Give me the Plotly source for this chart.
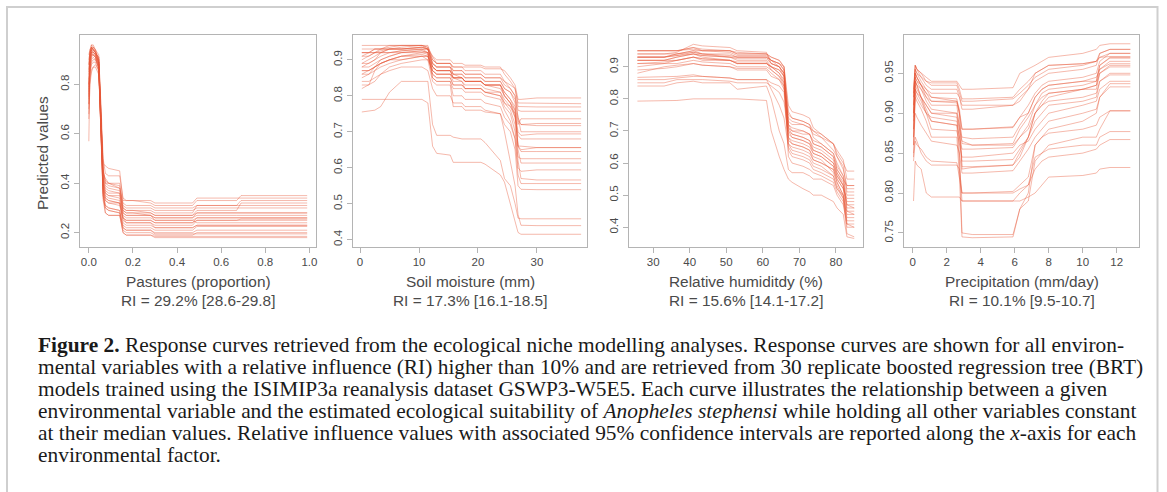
import plotly.graph_objects as go

# ---------------- DATA ----------------
# Panel 1: Pastures (proportion)
pasture_x = [0.0, 0.005, 0.012, 0.02, 0.03, 0.045, 0.055, 0.065, 0.075, 0.09, 0.14, 0.155, 0.17, 0.2, 0.28, 0.3, 0.47, 0.49, 0.67, 0.69, 0.99]
pasture_curves = [
    [0.72, 0.90, 0.95, 0.94, 0.93, 0.90, 0.70, 0.45, 0.40, 0.40, 0.38, 0.30, 0.29, 0.29, 0.28, 0.27, 0.27, 0.28, 0.28, 0.28, 0.28],
    [0.80, 0.92, 0.96, 0.95, 0.94, 0.88, 0.62, 0.40, 0.36, 0.35, 0.34, 0.26, 0.24, 0.24, 0.24, 0.22, 0.22, 0.23, 0.23, 0.23, 0.23],
    [0.57, 0.85, 0.93, 0.93, 0.92, 0.87, 0.66, 0.48, 0.47, 0.46, 0.45, 0.33, 0.33, 0.33, 0.32, 0.31, 0.31, 0.33, 0.33, 0.35, 0.35],
    [0.70, 0.88, 0.94, 0.94, 0.93, 0.89, 0.60, 0.35, 0.30, 0.29, 0.28, 0.20, 0.19, 0.19, 0.19, 0.18, 0.18, 0.18, 0.18, 0.18, 0.18],
    [0.85, 0.93, 0.95, 0.94, 0.93, 0.91, 0.72, 0.50, 0.44, 0.43, 0.43, 0.34, 0.33, 0.33, 0.33, 0.32, 0.32, 0.34, 0.34, 0.34, 0.34],
    [0.78, 0.90, 0.93, 0.92, 0.91, 0.86, 0.58, 0.38, 0.33, 0.32, 0.31, 0.25, 0.24, 0.24, 0.24, 0.23, 0.23, 0.25, 0.25, 0.255, 0.255],
    [0.88, 0.94, 0.96, 0.96, 0.94, 0.90, 0.64, 0.36, 0.28, 0.27, 0.27, 0.21, 0.20, 0.20, 0.20, 0.19, 0.19, 0.20, 0.20, 0.20, 0.20],
    [0.75, 0.89, 0.92, 0.92, 0.91, 0.88, 0.68, 0.42, 0.38, 0.37, 0.36, 0.29, 0.28, 0.28, 0.27, 0.26, 0.26, 0.27, 0.27, 0.27, 0.27],
    [0.82, 0.87, 0.90, 0.91, 0.90, 0.87, 0.63, 0.44, 0.42, 0.40, 0.39, 0.30, 0.29, 0.29, 0.29, 0.28, 0.28, 0.31, 0.31, 0.31, 0.31],
    [0.90, 0.93, 0.95, 0.95, 0.94, 0.92, 0.70, 0.37, 0.31, 0.30, 0.29, 0.22, 0.21, 0.21, 0.21, 0.195, 0.195, 0.195, 0.195, 0.195, 0.195],
    [0.68, 0.84, 0.88, 0.89, 0.89, 0.85, 0.61, 0.39, 0.35, 0.34, 0.33, 0.27, 0.26, 0.26, 0.26, 0.25, 0.25, 0.26, 0.26, 0.26, 0.26],
    [0.76, 0.82, 0.86, 0.87, 0.87, 0.84, 0.65, 0.41, 0.37, 0.36, 0.36, 0.28, 0.27, 0.27, 0.27, 0.25, 0.25, 0.24, 0.24, 0.24, 0.24],
    [0.86, 0.91, 0.94, 0.93, 0.92, 0.89, 0.66, 0.43, 0.39, 0.38, 0.37, 0.29, 0.28, 0.28, 0.28, 0.27, 0.27, 0.29, 0.29, 0.32, 0.32],
    [0.74, 0.92, 0.95, 0.94, 0.93, 0.90, 0.62, 0.34, 0.30, 0.29, 0.28, 0.23, 0.22, 0.22, 0.22, 0.21, 0.21, 0.225, 0.225, 0.225, 0.225],
    [0.80, 0.86, 0.91, 0.92, 0.91, 0.86, 0.59, 0.36, 0.33, 0.32, 0.32, 0.26, 0.25, 0.25, 0.25, 0.24, 0.24, 0.25, 0.25, 0.25, 0.25],
    [0.92, 0.94, 0.95, 0.94, 0.93, 0.91, 0.67, 0.40, 0.34, 0.33, 0.32, 0.24, 0.23, 0.23, 0.23, 0.22, 0.22, 0.23, 0.23, 0.23, 0.23],
    [0.72, 0.85, 0.89, 0.90, 0.90, 0.87, 0.64, 0.45, 0.41, 0.40, 0.40, 0.31, 0.30, 0.30, 0.30, 0.29, 0.29, 0.30, 0.30, 0.30, 0.30],
    [0.84, 0.91, 0.93, 0.93, 0.92, 0.88, 0.60, 0.33, 0.28, 0.27, 0.27, 0.20, 0.19, 0.19, 0.19, 0.185, 0.185, 0.185, 0.185, 0.185, 0.185],
    [0.79, 0.90, 0.94, 0.93, 0.92, 0.89, 0.69, 0.46, 0.40, 0.39, 0.38, 0.32, 0.31, 0.31, 0.31, 0.30, 0.30, 0.31, 0.31, 0.33, 0.33],
    [0.66, 0.80, 0.85, 0.87, 0.88, 0.86, 0.63, 0.38, 0.34, 0.33, 0.32, 0.26, 0.25, 0.25, 0.25, 0.24, 0.24, 0.26, 0.26, 0.26, 0.26],
    [0.88, 0.92, 0.94, 0.95, 0.93, 0.89, 0.61, 0.35, 0.31, 0.30, 0.29, 0.22, 0.21, 0.21, 0.21, 0.20, 0.20, 0.21, 0.21, 0.21, 0.21],
    [0.77, 0.88, 0.92, 0.92, 0.91, 0.88, 0.66, 0.42, 0.36, 0.35, 0.35, 0.28, 0.27, 0.27, 0.27, 0.26, 0.26, 0.28, 0.28, 0.28, 0.28],
]

# Panel 2: Soil moisture (mm)
soil_x = [0.3, 1.5, 2.5, 3.5, 5, 7, 10.5, 11.5, 12.3, 13, 15.3, 15.8, 17.3, 17.8, 20.5, 21.2, 23.8, 24.5, 25.5, 26.3, 26.8, 27.3, 30, 37.5]
soil_curves = [
    [0.92, 0.92, 0.93, 0.93, 0.935, 0.94, 0.94, 0.94, 0.90, 0.89, 0.89, 0.87, 0.87, 0.86, 0.86, 0.85, 0.85, 0.83, 0.82, 0.80, 0.74, 0.70, 0.70, 0.70],
    [0.94, 0.94, 0.94, 0.94, 0.94, 0.94, 0.94, 0.93, 0.91, 0.89, 0.89, 0.88, 0.88, 0.88, 0.88, 0.875, 0.875, 0.87, 0.85, 0.83, 0.79, 0.79, 0.794, 0.794],
    [0.88, 0.89, 0.90, 0.92, 0.93, 0.93, 0.935, 0.93, 0.88, 0.87, 0.87, 0.85, 0.85, 0.84, 0.84, 0.83, 0.83, 0.80, 0.78, 0.74, 0.66, 0.66, 0.656, 0.656],
    [0.85, 0.86, 0.88, 0.90, 0.91, 0.92, 0.925, 0.92, 0.87, 0.86, 0.86, 0.84, 0.84, 0.83, 0.83, 0.82, 0.81, 0.78, 0.76, 0.72, 0.62, 0.57, 0.566, 0.566],
    [0.91, 0.91, 0.92, 0.92, 0.93, 0.93, 0.93, 0.93, 0.90, 0.89, 0.89, 0.88, 0.88, 0.87, 0.87, 0.86, 0.86, 0.84, 0.83, 0.82, 0.78, 0.78, 0.778, 0.778],
    [0.83, 0.83, 0.87, 0.89, 0.90, 0.91, 0.915, 0.91, 0.86, 0.85, 0.85, 0.83, 0.83, 0.82, 0.82, 0.81, 0.80, 0.78, 0.77, 0.75, 0.70, 0.69, 0.694, 0.694],
    [0.92, 0.92, 0.92, 0.925, 0.93, 0.93, 0.935, 0.93, 0.89, 0.88, 0.88, 0.86, 0.86, 0.85, 0.85, 0.84, 0.84, 0.82, 0.81, 0.79, 0.74, 0.72, 0.717, 0.717],
    [0.755, 0.757, 0.76, 0.77, 0.81, 0.84, 0.84, 0.84, 0.72, 0.69, 0.69, 0.685, 0.68, 0.68, 0.68, 0.67, 0.62, 0.57, 0.55, 0.50, 0.46, 0.458, 0.458, 0.458],
    [0.79, 0.79, 0.79, 0.79, 0.79, 0.79, 0.79, 0.78, 0.66, 0.64, 0.635, 0.615, 0.615, 0.615, 0.615, 0.61, 0.58, 0.56, 0.50, 0.45, 0.42, 0.415, 0.415, 0.415],
    [0.89, 0.90, 0.91, 0.92, 0.92, 0.925, 0.93, 0.92, 0.85, 0.84, 0.84, 0.80, 0.80, 0.79, 0.79, 0.78, 0.77, 0.74, 0.72, 0.68, 0.60, 0.59, 0.594, 0.594],
    [0.86, 0.87, 0.88, 0.89, 0.90, 0.91, 0.91, 0.91, 0.88, 0.87, 0.87, 0.86, 0.85, 0.84, 0.84, 0.83, 0.83, 0.81, 0.79, 0.77, 0.73, 0.72, 0.723, 0.723],
    [0.90, 0.91, 0.92, 0.93, 0.93, 0.935, 0.94, 0.935, 0.89, 0.88, 0.88, 0.86, 0.86, 0.85, 0.85, 0.84, 0.84, 0.82, 0.81, 0.78, 0.66, 0.65, 0.656, 0.656],
    [0.84, 0.84, 0.85, 0.86, 0.87, 0.88, 0.88, 0.87, 0.82, 0.80, 0.80, 0.78, 0.78, 0.77, 0.77, 0.76, 0.75, 0.72, 0.70, 0.65, 0.55, 0.54, 0.539, 0.539],
    [0.93, 0.93, 0.93, 0.93, 0.94, 0.94, 0.94, 0.935, 0.91, 0.90, 0.90, 0.89, 0.89, 0.885, 0.885, 0.88, 0.88, 0.86, 0.84, 0.82, 0.77, 0.77, 0.769, 0.769],
    [0.82, 0.83, 0.84, 0.86, 0.88, 0.89, 0.90, 0.90, 0.84, 0.83, 0.83, 0.77, 0.77, 0.76, 0.76, 0.755, 0.75, 0.70, 0.62, 0.55, 0.47, 0.44, 0.439, 0.439],
    [0.87, 0.87, 0.88, 0.89, 0.90, 0.90, 0.91, 0.90, 0.87, 0.86, 0.86, 0.85, 0.84, 0.82, 0.82, 0.81, 0.81, 0.79, 0.77, 0.74, 0.69, 0.68, 0.68, 0.68],
    [0.91, 0.92, 0.92, 0.92, 0.92, 0.925, 0.93, 0.93, 0.89, 0.88, 0.88, 0.87, 0.87, 0.86, 0.86, 0.85, 0.85, 0.84, 0.82, 0.80, 0.76, 0.757, 0.757, 0.757],
    [0.89, 0.89, 0.90, 0.91, 0.92, 0.92, 0.925, 0.92, 0.88, 0.87, 0.87, 0.85, 0.85, 0.84, 0.84, 0.83, 0.83, 0.80, 0.78, 0.75, 0.66, 0.645, 0.645, 0.645],
    [0.88, 0.88, 0.89, 0.90, 0.91, 0.92, 0.92, 0.92, 0.86, 0.85, 0.85, 0.83, 0.83, 0.82, 0.82, 0.81, 0.80, 0.77, 0.75, 0.70, 0.63, 0.625, 0.625, 0.625],
    [0.86, 0.86, 0.87, 0.88, 0.89, 0.90, 0.91, 0.91, 0.87, 0.86, 0.86, 0.85, 0.85, 0.84, 0.84, 0.83, 0.82, 0.80, 0.78, 0.76, 0.72, 0.736, 0.736, 0.736],
    [0.92, 0.92, 0.93, 0.93, 0.93, 0.93, 0.935, 0.93, 0.88, 0.87, 0.87, 0.85, 0.85, 0.84, 0.84, 0.83, 0.83, 0.81, 0.79, 0.76, 0.65, 0.613, 0.613, 0.613],
    [0.87, 0.87, 0.88, 0.89, 0.90, 0.91, 0.92, 0.915, 0.85, 0.84, 0.84, 0.82, 0.82, 0.81, 0.81, 0.80, 0.79, 0.76, 0.73, 0.68, 0.58, 0.556, 0.556, 0.556],
]

# Panel 3: Relative humidity (%)
humid_x = [25.7, 33, 36.5, 41, 43.5, 51, 53, 61, 62.3, 64.5, 65.8, 67, 68, 71, 72.8, 73.8, 76, 79.3, 80.3, 82, 83, 85]
humid_curves = [
    [0.95, 0.95, 0.95, 0.96, 0.95, 0.95, 0.94, 0.94, 0.93, 0.92, 0.90, 0.76, 0.74, 0.73, 0.72, 0.68, 0.66, 0.63, 0.60, 0.56, 0.45, 0.44],
    [0.94, 0.94, 0.945, 0.97, 0.965, 0.96, 0.95, 0.945, 0.91, 0.90, 0.88, 0.72, 0.70, 0.70, 0.69, 0.66, 0.65, 0.62, 0.58, 0.55, 0.50, 0.50],
    [0.93, 0.93, 0.94, 0.95, 0.94, 0.93, 0.93, 0.93, 0.92, 0.90, 0.87, 0.68, 0.66, 0.65, 0.64, 0.62, 0.61, 0.57, 0.54, 0.50, 0.40, 0.40],
    [0.92, 0.92, 0.93, 0.94, 0.93, 0.92, 0.91, 0.91, 0.90, 0.88, 0.85, 0.70, 0.69, 0.68, 0.67, 0.64, 0.63, 0.60, 0.56, 0.53, 0.47, 0.47],
    [0.92, 0.92, 0.92, 0.93, 0.92, 0.92, 0.915, 0.915, 0.89, 0.87, 0.84, 0.64, 0.62, 0.61, 0.60, 0.58, 0.57, 0.55, 0.52, 0.50, 0.43, 0.43],
    [0.88, 0.90, 0.905, 0.91, 0.905, 0.90, 0.89, 0.89, 0.87, 0.86, 0.83, 0.74, 0.73, 0.72, 0.71, 0.69, 0.68, 0.64, 0.62, 0.58, 0.53, 0.53],
    [0.867, 0.87, 0.87, 0.875, 0.87, 0.865, 0.86, 0.86, 0.85, 0.84, 0.82, 0.67, 0.66, 0.65, 0.64, 0.61, 0.60, 0.58, 0.55, 0.52, 0.46, 0.46],
    [0.84, 0.84, 0.85, 0.855, 0.85, 0.85, 0.83, 0.84, 0.80, 0.70, 0.66, 0.58, 0.57, 0.57, 0.56, 0.55, 0.55, 0.53, 0.50, 0.47, 0.41, 0.41],
    [0.793, 0.795, 0.795, 0.80, 0.80, 0.80, 0.80, 0.795, 0.70, 0.62, 0.58, 0.55, 0.54, 0.52, 0.51, 0.50, 0.50, 0.48, 0.46, 0.44, 0.37, 0.365],
    [0.95, 0.95, 0.95, 0.955, 0.95, 0.95, 0.94, 0.94, 0.92, 0.91, 0.89, 0.73, 0.72, 0.72, 0.71, 0.70, 0.68, 0.66, 0.63, 0.60, 0.575, 0.575],
    [0.91, 0.91, 0.92, 0.93, 0.925, 0.92, 0.91, 0.91, 0.90, 0.89, 0.87, 0.71, 0.70, 0.69, 0.69, 0.67, 0.66, 0.63, 0.59, 0.56, 0.52, 0.52],
    [0.93, 0.93, 0.935, 0.94, 0.935, 0.93, 0.925, 0.925, 0.91, 0.90, 0.88, 0.66, 0.64, 0.63, 0.62, 0.60, 0.59, 0.56, 0.53, 0.49, 0.38, 0.37],
    [0.85, 0.85, 0.86, 0.86, 0.86, 0.855, 0.85, 0.85, 0.84, 0.82, 0.79, 0.69, 0.68, 0.67, 0.66, 0.63, 0.62, 0.59, 0.55, 0.52, 0.49, 0.49],
    [0.94, 0.94, 0.94, 0.95, 0.95, 0.945, 0.935, 0.935, 0.92, 0.91, 0.90, 0.78, 0.76, 0.75, 0.74, 0.71, 0.69, 0.66, 0.64, 0.61, 0.55, 0.55],
    [0.90, 0.91, 0.91, 0.92, 0.915, 0.91, 0.90, 0.90, 0.89, 0.87, 0.85, 0.62, 0.60, 0.59, 0.58, 0.57, 0.56, 0.54, 0.51, 0.48, 0.42, 0.42],
    [0.92, 0.92, 0.93, 0.94, 0.935, 0.93, 0.92, 0.92, 0.90, 0.89, 0.87, 0.75, 0.74, 0.73, 0.72, 0.70, 0.69, 0.66, 0.62, 0.59, 0.51, 0.51],
    [0.86, 0.86, 0.865, 0.87, 0.87, 0.865, 0.86, 0.86, 0.83, 0.78, 0.74, 0.65, 0.63, 0.62, 0.61, 0.59, 0.58, 0.56, 0.52, 0.49, 0.44, 0.44],
    [0.93, 0.93, 0.94, 0.945, 0.94, 0.94, 0.93, 0.93, 0.92, 0.91, 0.89, 0.70, 0.68, 0.67, 0.66, 0.64, 0.63, 0.60, 0.57, 0.54, 0.48, 0.48],
    [0.91, 0.915, 0.92, 0.93, 0.925, 0.92, 0.91, 0.91, 0.90, 0.88, 0.86, 0.66, 0.65, 0.64, 0.63, 0.61, 0.60, 0.58, 0.54, 0.50, 0.45, 0.45],
    [0.95, 0.95, 0.95, 0.96, 0.955, 0.95, 0.945, 0.94, 0.93, 0.92, 0.90, 0.71, 0.69, 0.68, 0.67, 0.65, 0.64, 0.61, 0.57, 0.53, 0.41, 0.40],
    [0.89, 0.895, 0.90, 0.91, 0.905, 0.90, 0.895, 0.895, 0.88, 0.86, 0.84, 0.72, 0.71, 0.70, 0.69, 0.66, 0.65, 0.62, 0.58, 0.55, 0.53, 0.53],
    [0.93, 0.93, 0.935, 0.945, 0.94, 0.935, 0.93, 0.93, 0.91, 0.90, 0.88, 0.68, 0.67, 0.66, 0.65, 0.63, 0.62, 0.59, 0.56, 0.53, 0.47, 0.46],
]

# Panel 4: Precipitation (mm/day)
precip_x = [0.05, 0.15, 0.25, 0.5, 0.8, 1.1, 2.6, 2.75, 2.9, 3.5, 5.9, 6.3, 6.8, 7.2, 7.6, 8.0, 10.0, 10.8, 11.0, 11.6, 12.8]
precip_curves = [
    [0.93, 0.96, 0.955, 0.95, 0.945, 0.94, 0.94, 0.935, 0.93, 0.93, 0.932, 0.95, 0.955, 0.96, 0.965, 0.97, 0.975, 0.98, 0.985, 0.987, 0.987],
    [0.92, 0.955, 0.95, 0.94, 0.93, 0.925, 0.925, 0.92, 0.91, 0.91, 0.91, 0.915, 0.93, 0.94, 0.945, 0.95, 0.955, 0.96, 0.975, 0.98, 0.98],
    [0.90, 0.95, 0.945, 0.935, 0.925, 0.915, 0.915, 0.90, 0.88, 0.88, 0.882, 0.895, 0.90, 0.92, 0.93, 0.935, 0.94, 0.94, 0.96, 0.97, 0.97],
    [0.845, 0.94, 0.935, 0.93, 0.92, 0.91, 0.91, 0.88, 0.865, 0.86, 0.86, 0.87, 0.88, 0.90, 0.91, 0.92, 0.93, 0.93, 0.95, 0.96, 0.96],
    [0.79, 0.84, 0.835, 0.83, 0.80, 0.795, 0.795, 0.795, 0.79, 0.79, 0.79, 0.79, 0.795, 0.80, 0.81, 0.82, 0.822, 0.825, 0.83, 0.832, 0.832],
    [0.91, 0.945, 0.94, 0.935, 0.93, 0.92, 0.918, 0.90, 0.83, 0.832, 0.835, 0.845, 0.87, 0.90, 0.91, 0.915, 0.92, 0.925, 0.94, 0.95, 0.95],
    [0.88, 0.93, 0.925, 0.92, 0.91, 0.90, 0.90, 0.85, 0.75, 0.748, 0.748, 0.78, 0.79, 0.84, 0.85, 0.86, 0.87, 0.87, 0.88, 0.903, 0.903],
    [0.86, 0.925, 0.92, 0.91, 0.90, 0.89, 0.885, 0.84, 0.79, 0.79, 0.79, 0.80, 0.81, 0.845, 0.85, 0.855, 0.86, 0.86, 0.87, 0.877, 0.877],
    [0.87, 0.93, 0.925, 0.915, 0.90, 0.88, 0.878, 0.86, 0.845, 0.845, 0.85, 0.86, 0.865, 0.88, 0.89, 0.90, 0.91, 0.915, 0.93, 0.94, 0.94],
    [0.92, 0.96, 0.955, 0.945, 0.935, 0.93, 0.93, 0.92, 0.905, 0.905, 0.91, 0.92, 0.93, 0.95, 0.955, 0.96, 0.962, 0.965, 0.97, 0.975, 0.975],
    [0.85, 0.87, 0.865, 0.85, 0.84, 0.835, 0.835, 0.83, 0.80, 0.80, 0.80, 0.805, 0.81, 0.83, 0.84, 0.845, 0.85, 0.855, 0.86, 0.867, 0.867],
    [0.90, 0.94, 0.935, 0.92, 0.905, 0.89, 0.885, 0.87, 0.855, 0.855, 0.857, 0.87, 0.885, 0.91, 0.92, 0.925, 0.93, 0.935, 0.955, 0.965, 0.965],
    [0.88, 0.935, 0.93, 0.92, 0.91, 0.90, 0.895, 0.88, 0.833, 0.833, 0.835, 0.85, 0.87, 0.90, 0.915, 0.925, 0.93, 0.935, 0.95, 0.958, 0.958],
    [0.925, 0.96, 0.955, 0.95, 0.94, 0.935, 0.935, 0.925, 0.915, 0.915, 0.918, 0.925, 0.935, 0.945, 0.95, 0.955, 0.96, 0.965, 0.97, 0.971, 0.971],
    [0.87, 0.92, 0.915, 0.905, 0.89, 0.87, 0.87, 0.82, 0.745, 0.744, 0.745, 0.78, 0.80, 0.86, 0.87, 0.88, 0.89, 0.90, 0.92, 0.933, 0.933],
    [0.90, 0.95, 0.945, 0.935, 0.92, 0.915, 0.913, 0.90, 0.862, 0.86, 0.862, 0.88, 0.895, 0.91, 0.925, 0.93, 0.935, 0.94, 0.96, 0.969, 0.969],
    [0.89, 0.94, 0.935, 0.92, 0.90, 0.895, 0.89, 0.87, 0.84, 0.84, 0.842, 0.855, 0.87, 0.89, 0.90, 0.91, 0.915, 0.92, 0.94, 0.948, 0.948],
    [0.91, 0.95, 0.945, 0.935, 0.925, 0.92, 0.915, 0.905, 0.88, 0.88, 0.883, 0.895, 0.91, 0.925, 0.935, 0.94, 0.945, 0.95, 0.965, 0.975, 0.975],
    [0.86, 0.90, 0.895, 0.885, 0.875, 0.865, 0.86, 0.85, 0.825, 0.825, 0.828, 0.84, 0.855, 0.87, 0.88, 0.89, 0.90, 0.905, 0.92, 0.937, 0.937],
    [0.925, 0.955, 0.95, 0.945, 0.94, 0.938, 0.938, 0.93, 0.918, 0.918, 0.92, 0.93, 0.94, 0.95, 0.955, 0.96, 0.962, 0.965, 0.975, 0.98, 0.98],
    [0.895, 0.945, 0.94, 0.93, 0.915, 0.905, 0.90, 0.885, 0.87, 0.868, 0.87, 0.885, 0.90, 0.92, 0.93, 0.935, 0.94, 0.945, 0.955, 0.962, 0.962],
    [0.84, 0.865, 0.86, 0.855, 0.845, 0.84, 0.838, 0.82, 0.80, 0.80, 0.802, 0.81, 0.82, 0.86, 0.87, 0.875, 0.88, 0.885, 0.895, 0.903, 0.903],
]

axis_titles = ["Pastures (proportion)", "Soil moisture (mm)", "Relative humiditdy (%)", "Precipitation (mm/day)"]
ri_labels = ["RI = 29.2% [28.6-29.8]", "RI = 17.3% [16.1-18.5]", "RI = 15.6% [14.1-17.2]", "RI = 10.1% [9.5-10.7]"]
x_ticks = [[0, 0.2, 0.4, 0.6, 0.8, 1.0], [0, 10, 20, 30], [30, 40, 50, 60, 70, 80], [0, 2, 4, 6, 8, 10, 12]]
y_ticks = [[0.2, 0.4, 0.6, 0.8], [0.4, 0.5, 0.6, 0.7, 0.8, 0.9], [0.4, 0.5, 0.6, 0.7, 0.8, 0.9], [0.75, 0.80, 0.85, 0.90, 0.95]]
caption_lines = [
    "<b>Figure 2.</b> Response curves retrieved from the ecological niche modelling analyses. Response curves are shown for all environ-",
    "mental variables with a relative influence (RI) higher than 10% and are retrieved from 30 replicate boosted regression tree (BRT)",
    "models trained using the ISIMIP3a reanalysis dataset GSWP3-W5E5. Each curve illustrates the relationship between a given",
    "environmental variable and the estimated ecological suitability of <i>Anopheles stephensi</i> while holding all other variables constant",
    "at their median values. Relative influence values with associated 95% confidence intervals are reported along the <i>x</i>-axis for each",
    "environmental factor.",
]

# ---------------- LAYOUT ----------------
W, H = 1167, 492
def fx(p): return p / W
def fy(p): return 1 - p / H

x_ranges = [[-0.04, 1.03], [-1.2, 38.5], [23.4, 87.4], [-0.51, 13.31]]
y_ranges = [[0.144, 1.0], [0.381, 0.969], [0.34, 0.999], [0.733, 0.998]]
x_fmt = [".1f", "d", "d", "d"]
y_fmt = [".1f", ".1f", ".1f", ".2f"]
box_px = [(80, 316), (353, 587), (629, 863), (904, 1139)]
box_top, box_bot = 35, 246.5

LINE = "rgba(232,88,58,0.42)"
SANS = "Liberation Sans, Arial, Helvetica, sans-serif"
SERIF = "Liberation Serif, Times New Roman, serif"
GRAY = "#b4b4b4"
TXT = "#4a4a4a"

panels = [(pasture_x, pasture_curves), (soil_x, soil_curves), (humid_x, humid_curves), (precip_x, precip_curves)]

fig = go.Figure()
layout = dict(
    width=W, height=H, margin=dict(l=0, r=0, t=0, b=0),
    paper_bgcolor="white", plot_bgcolor="white", showlegend=False,
    annotations=[], shapes=[],
)
for i, (xs, curves) in enumerate(panels):
    n = "" if i == 0 else str(i + 1)
    for c in curves:
        fig.add_trace(go.Scatter(x=xs, y=c, mode="lines", line=dict(color=LINE, width=1),
                                 xaxis="x" + n, yaxis="y" + n, hoverinfo="skip"))
    common = dict(showline=True, mirror=True, linecolor=GRAY, linewidth=1, ticks="outside",
                  ticklen=5, tickcolor=GRAY, tickwidth=1, showgrid=False, zeroline=False,
                  tickfont=dict(family=SANS, size=11.5, color=TXT))
    layout["xaxis" + n] = dict(common, domain=[fx(box_px[i][0]), fx(box_px[i][1])], range=x_ranges[i],
                               tickvals=x_ticks[i], tickformat=x_fmt[i], anchor="y" + n)
    layout["yaxis" + n] = dict(common, domain=[fy(box_bot), fy(box_top)], range=y_ranges[i],
                               tickvals=y_ticks[i], tickformat=y_fmt[i], tickangle=-90, anchor="x" + n)
    cx = fx((box_px[i][0] + box_px[i][1]) / 2)
    layout["annotations"].append(dict(text=axis_titles[i], x=cx, y=fy(281), xref="paper", yref="paper",
                                      showarrow=False, xanchor="center", yanchor="middle",
                                      font=dict(family=SANS, size=15.4, color=TXT)))
    layout["annotations"].append(dict(text=ri_labels[i], x=cx, y=fy(300), xref="paper", yref="paper",
                                      showarrow=False, xanchor="center", yanchor="middle",
                                      font=dict(family=SANS, size=15.4, color=TXT)))

layout["annotations"].append(dict(text="Predicted values", x=fx(42), y=fy(153), xref="paper", yref="paper",
                                  showarrow=False, textangle=-90, xanchor="center", yanchor="middle",
                                  font=dict(family=SANS, size=15.4, color=TXT)))

for k, line in enumerate(caption_lines):
    layout["annotations"].append(dict(text=line, x=fx(36), y=fy(345 + 22 * k), xref="paper", yref="paper",
                                      showarrow=False, xanchor="left", yanchor="middle",
                                      font=dict(family=SERIF, size=21.4, color="#1a1a1a")))

layout["shapes"].append(dict(type="rect", xref="paper", yref="paper", x0=fx(7), x1=fx(1157.5), y0=fy(500), y1=fy(7),
                             line=dict(color="#cfcfcf", width=2), fillcolor="rgba(0,0,0,0)", layer="below"))

fig.update_layout(**layout)
fig.write_html("out.html", include_plotlyjs=True, config={"displayModeBar": False},
               post_script="document.body.style.margin='0';document.body.style.overflow='hidden';")
